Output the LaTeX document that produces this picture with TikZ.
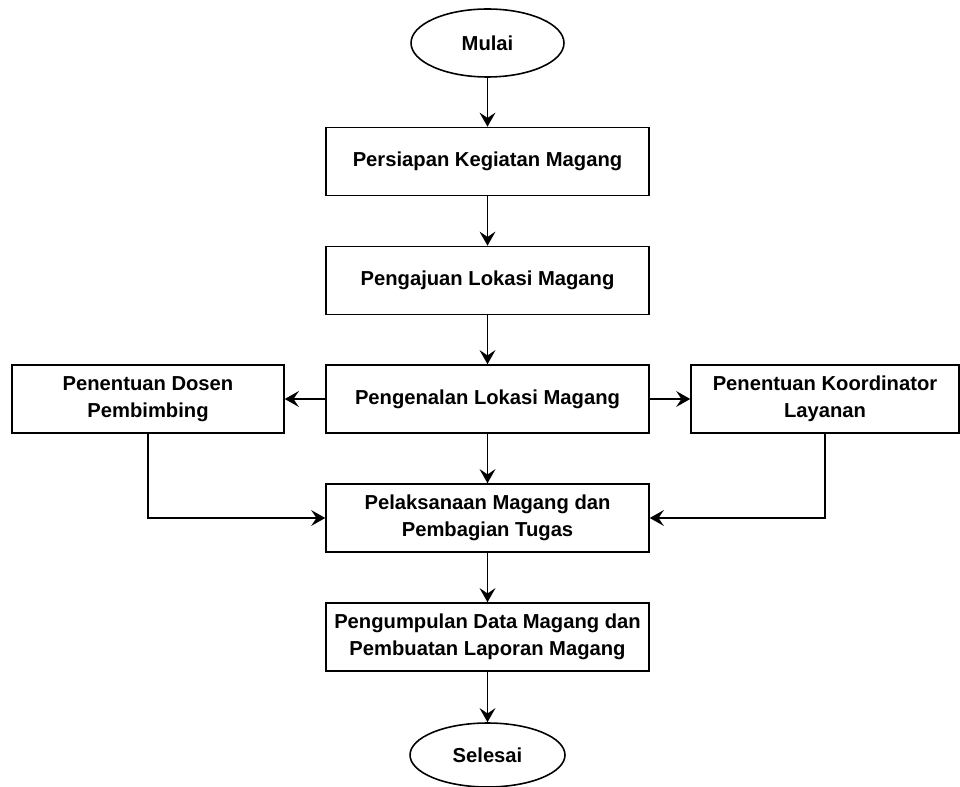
\documentclass[tikz,border=0pt]{standalone}
\usepackage{fontspec}
\setmainfont{Liberation Sans}
\usetikzlibrary{shapes.geometric,arrows.meta}
\begin{document}
\begin{tikzpicture}[x=0.02cm, y=0.02cm,
  every node/.style={font=\bfseries\fontsize{11.5}{15.4}\selectfont, align=center, inner sep=2pt},
  proses/.style={draw=black, line width=0.9pt, minimum width=6.46cm, minimum height=1.36cm},
  terminal/.style={draw=black, ellipse, line width=0.9pt, minimum width=3.06cm, minimum height=1.36cm},
  alur/.style={draw=black, line width=0.9pt, -{Stealth[length=8pt,width=9pt,inset=3pt]}}]
\useasboundingbox (0,0) rectangle (960,-787);
\node [terminal] (mulai) at (487.5,-43) {Mulai};
\node [proses] (persiapan) at (487.5,-161.5) {Persiapan Kegiatan Magang};
\node [proses] (pengajuan) at (487.5,-280.5) {Pengajuan Lokasi Magang};
\node [proses] (pengenalan) at (487.5,-399) {Pengenalan Lokasi Magang};
\node [proses, minimum width=5.44cm] (dosen) at (148,-399) {Penentuan Dosen\\Pembimbing};
\node [proses, minimum width=5.36cm] (koordinator) at (825,-399) {Penentuan Koordinator\\Layanan};
\node [proses] (pelaksanaan) at (487.5,-518) {Pelaksanaan Magang dan\\Pembagian Tugas};
\node [proses] (pengumpulan) at (487.5,-637) {Pengumpulan Data Magang dan\\Pembuatan Laporan Magang};
\node [terminal, minimum width=3.1cm, minimum height=1.28cm] (selesai) at (487.5,-755) {Selesai};
\draw [alur] (mulai) -- (persiapan);
\draw [alur] (persiapan) -- (pengajuan);
\draw [alur] (pengajuan) -- (pengenalan);
\draw [alur] (pengenalan) -- (dosen);
\draw [alur] (pengenalan) -- (koordinator);
\draw [alur] (pengenalan) -- (pelaksanaan);
\draw [alur] (dosen) |- (pelaksanaan);
\draw [alur] (koordinator) |- (pelaksanaan);
\draw [alur] (pelaksanaan) -- (pengumpulan);
\draw [alur] (pengumpulan) -- (selesai);
\end{tikzpicture}
\end{document}
